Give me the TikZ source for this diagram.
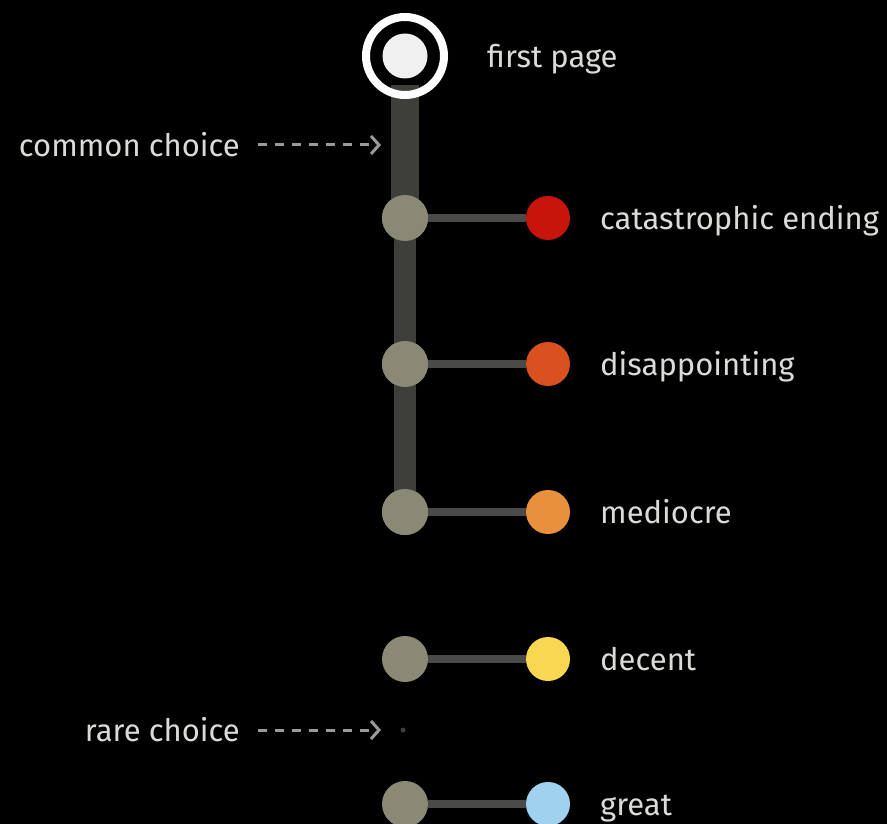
\documentclass[tikz,border=0pt]{standalone}
\usepackage{fontspec}
\setmainfont{Fira Sans}
\usetikzlibrary{arrows.meta}
\definecolor{bg}{HTML}{000000}
\definecolor{txt}{HTML}{DADAD6}
\definecolor{knot}{HTML}{8A8976}
\definecolor{trunk}{HTML}{3E3E3B}
\definecolor{branch}{HTML}{4A4A48}
\definecolor{ered}{HTML}{C8150C}
\definecolor{eorange}{HTML}{D8501E}
\definecolor{emed}{HTML}{E8903C}
\definecolor{eyellow}{HTML}{F8D850}
\definecolor{eblue}{HTML}{A0D2F0}
\definecolor{dashc}{HTML}{9A9A96}
\tikzset{
  knotnode/.style={circle,fill=knot,minimum size=46pt,inner sep=0pt},
  endnode/.style={circle,minimum size=44pt,inner sep=0pt},
  lbl/.style={anchor=mid west,text=txt,font=\fontsize{31}{36}\selectfont,inner sep=0pt,yshift=-9pt},
  trunkline/.style={draw=trunk,line width=22pt},
  branchline/.style={draw=branch,line width=8pt},
  hint/.style={draw=dashc,line width=3pt,dash pattern=on 9pt off 8pt,-{Straight Barb[length=8pt,width=18pt,line width=3pt]}}
}
\begin{document}
\begin{tikzpicture}[x=1pt,y=-1pt]
\fill[bg] (0,0) rectangle (887,824);
\useasboundingbox (0,0) rectangle (887,824);
% trunk
\coordinate (t0) at (405,85);
\node[knotnode] (k1) at (405,218) {};
\node[knotnode] (k2) at (405,364) {};
\node[knotnode] (k3) at (405,512) {};
\node[knotnode] (k4) at (405,659) {};
\node[knotnode] (k5) at (405,804) {};
\draw[draw=trunk,line width=28pt] (t0) -- (k1.center);
\draw[trunkline] (k1.center) -- (k3.center);
% end nodes
\node[endnode,fill=ered] (e1) at (548,218) {};
\node[endnode,fill=eorange] (e2) at (548,364) {};
\node[endnode,fill=emed] (e3) at (548,512) {};
\node[endnode,fill=eyellow] (e4) at (548,659) {};
\node[endnode,fill=eblue] (e5) at (548,804) {};
\draw[branchline] (k1) -- (e1);
\draw[branchline] (k2) -- (e2);
\draw[branchline] (k3) -- (e3);
\draw[branchline] (k4) -- (e4);
\draw[branchline] (k5) -- (e5);
% redraw knots on top of trunk
\node[knotnode] at (k1) {};
\node[knotnode] at (k2) {};
\node[knotnode] at (k3) {};
% start
\node[circle,draw=white,line width=8pt,minimum size=78pt,inner sep=0pt] (start) at (405,56) {};
\node[circle,fill=white!88!gray,minimum size=45pt,inner sep=0pt] (startin) at (405,56) {};
% labels
\node[lbl] (l0) at (487,56) {first page};
\node[lbl] (l1) at (600,218) {catastrophic ending};
\node[lbl] (l2) at (600,364) {disappointing};
\node[lbl] (l3) at (600,512) {mediocre};
\node[lbl] (l4) at (600,659) {decent};
\node[lbl] (l5) at (600,804) {great};
% hints
\node[lbl,anchor=mid east] (common) at (240,145) {common choice};
\coordinate (cend) at (381,145);
\draw[hint] ([xshift=18pt,yshift=9pt]common.mid east) -- (cend);
\node[lbl,anchor=mid east] (rare) at (240,730) {rare choice};
\coordinate (rend) at (381,730);
\draw[hint] ([xshift=18pt,yshift=9pt]rare.mid east) -- (rend);
\node[circle,fill=trunk,minimum size=5pt,inner sep=0pt] (rdot) at (403,730) {};
\end{tikzpicture}
\end{document}
